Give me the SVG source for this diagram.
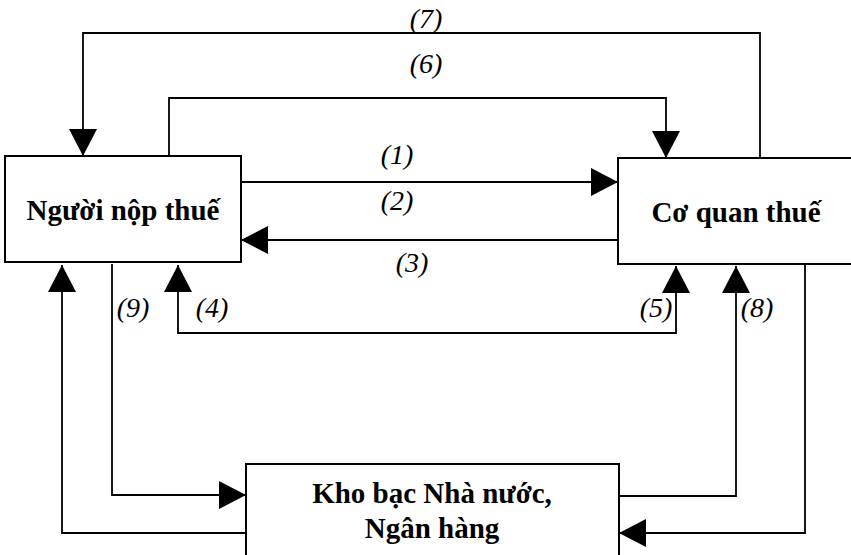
<svg xmlns="http://www.w3.org/2000/svg" width="851" height="555" viewBox="0 0 851 555">
<style>
.box{fill:#fff;stroke:#000;stroke-width:2}
.ln{fill:none;stroke:#000;stroke-width:1.8}
.nt{font-family:"Liberation Serif","Times New Roman",serif;font-weight:bold;font-size:29px;text-anchor:middle;fill:#000}
.lb{font-family:"Liberation Serif","Times New Roman",serif;font-style:italic;font-size:28px;text-anchor:middle;fill:#000}
</style>
<defs>
<marker id="ah" markerUnits="userSpaceOnUse" markerWidth="28" markerHeight="28" refX="27" refY="14" orient="auto-start-reverse" viewBox="0 0 28 28">
<path d="M0,0 L27,14 L0,28 Z" fill="#000"/>
</marker>
</defs>
<rect width="851" height="555" fill="#fff"/>
<g id="connectors">
<path class="ln" d="M760,158 V33 H83 V156" marker-end="url(#ah)"/>
<path class="ln" d="M169,156 V98 H666 V158" marker-end="url(#ah)"/>
<path class="ln" d="M241,182 H618" marker-end="url(#ah)"/>
<path class="ln" d="M618,240 H241" marker-end="url(#ah)"/>
<path class="ln" d="M178,265 V333 H676 V266" marker-start="url(#ah)" marker-end="url(#ah)"/>
<path class="ln" d="M112,264 V495 H246" marker-end="url(#ah)"/>
<path class="ln" d="M246,533 H62 V265" marker-end="url(#ah)"/>
<path class="ln" d="M619,496 H736 V266" marker-end="url(#ah)"/>
<path class="ln" d="M805,264 V533 H619" marker-end="url(#ah)"/>
<text class="lb" x="426" y="28">(7)</text>
<text class="lb" x="426" y="73">(6)</text>
<text class="lb" x="397" y="164">(1)</text>
<text class="lb" x="397" y="210">(2)</text>
<text class="lb" x="412" y="272">(3)</text>
<text class="lb" x="133" y="317">(9)</text>
<text class="lb" x="212" y="317">(4)</text>
<text class="lb" x="656" y="317">(5)</text>
<text class="lb" x="757" y="317">(8)</text>
</g>
<g id="nguoi-nop-thue">
<rect class="box" x="5" y="156" width="236" height="106"/>
<text class="nt" x="123" y="220">Người nộp thuế</text>
</g>
<g id="co-quan-thue">
<rect class="box" x="618" y="158" width="242" height="106"/>
<text class="nt" x="736" y="222">Cơ quan thuế</text>
</g>
<g id="kho-bac">
<rect class="box" x="246" y="464" width="373" height="100"/>
<text class="nt" x="432" y="503">Kho bạc Nhà nước,</text>
<text class="nt" x="432" y="538">Ngân hàng</text>
</g>
</svg>
